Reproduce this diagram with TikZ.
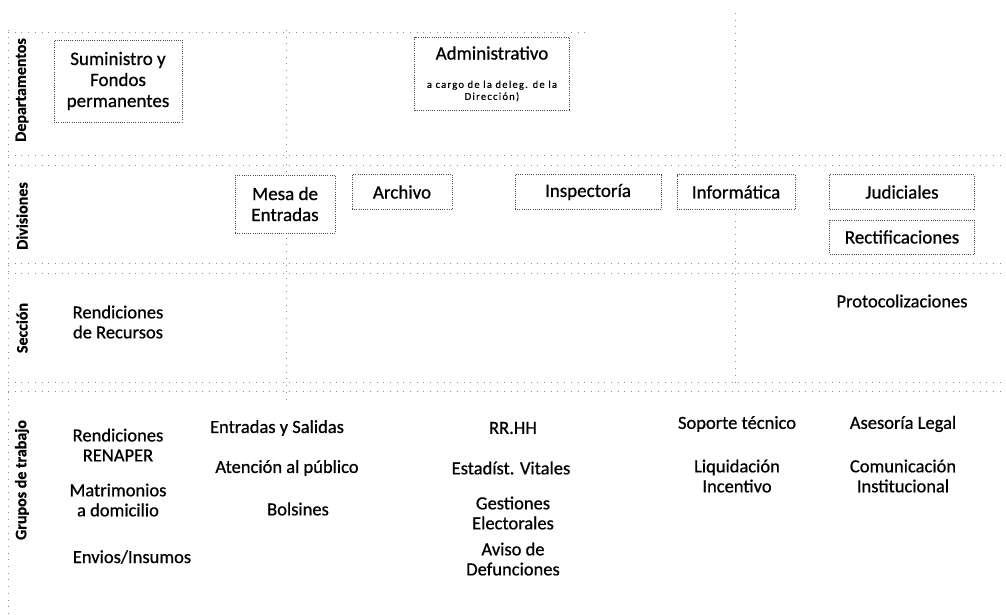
\documentclass[tikz,border=0pt]{standalone}
\usepackage{fontspec}
\setmainfont{Carlito}[FakeBold=0.7]
\newfontfamily\spacedfont[LetterSpace=12,FakeBold=0.5]{Carlito}
\usetikzlibrary{positioning}

\begin{document}
\begin{tikzpicture}[x=1pt,y=-1pt,
    rejilla/.style={draw=black!45, line width=0.5pt, dash pattern=on 0.7pt off 6pt},
    caja/.style={draw=black!70, line width=0.5pt, dash pattern=on 0.7pt off 1.5pt, fill=white,
                 align=center, inner sep=0pt, font=\fontsize{19}{21}\selectfont},
    grupo/.style={align=center, font=\fontsize{18.5}{20}\selectfont},
    franja/.style={rotate=90, font=\bfseries\fontsize{16}{18}\selectfont}]
    \useasboundingbox (0,0) rectangle (1006,615);
    % grid
    \draw[rejilla] (8,30) -- (8,615);
    \draw[rejilla] (8,32) -- (590,32);
    \foreach \y in {155,165,263,273,382,391}
        \draw[rejilla] (8,\y) -- (1006,\y);
    \draw[rejilla] (286,30) -- (286,405);
    \draw[rejilla] (735,13) -- (735,382);
    % bands
    \node[franja] (departamentos) at (22,90) {Departamentos};
    \node[franja] (divisiones) at (22,216) {Divisiones};
    \node[franja] (seccion) at (22,328) {Sección};
    \node[franja] (grupos) at (22,480) {Grupos de trabajo};
    % departamentos
    \node[caja, minimum width=128, minimum height=82] (suministro) at (118,81) {Suministro y\\Fondos\\permanentes};
    \node[caja, minimum width=155, minimum height=73] (administrativo) at (492,74) {};
    \node[font=\fontsize{19}{21}\selectfont] (admtitulo) at (492,53) {Administrativo};
    \node[align=center, font=\spacedfont\fontsize{10.5}{12}\selectfont] (admnota) at (492,91) {a cargo de la deleg. de la\\Dirección)};
    % divisiones
    \node[caja, minimum width=100, minimum height=58] (mesa) at (285,204) {Mesa de\\Entradas};
    \node[caja, minimum width=100, minimum height=35] (archivo) at (402,192) {Archivo};
    \node[caja, minimum width=146, minimum height=35] (inspectoria) at (588,192) {Inspectoría};
    \node[caja, minimum width=118, minimum height=35] (informatica) at (736,192) {Informática};
    \node[caja, minimum width=145, minimum height=35] (judiciales) at (902,192) {Judiciales};
    \node[caja, minimum width=145, minimum height=34, below=10pt of judiciales] (rectificaciones) {Rectificaciones};
    % seccion
    \node[grupo] (rendrecursos) at (118,322) {Rendiciones\\de Recursos};
    \node[grupo] (protocolizaciones) at (902,301) {Protocolizaciones};
    % grupos de trabajo
    \node[grupo] (renaper) at (118,445) {Rendiciones\\RENAPER};
    \node[grupo] (matrimonios) at (118,500) {Matrimonios\\a domicilio};
    \node[grupo] (envios) at (132,557) {Envios/Insumos};
    \node[grupo] (entradas) at (277,428) {Entradas y Salidas};
    \node[grupo] (atencion) at (287,468) {Atención al público};
    \node[grupo] (bolsines) at (298,509) {Bolsines};
    \node[grupo] (rrhh) at (513,428) {RR.HH};
    \node[grupo] (estadisticas) at (511,468) {Estadíst. Vitales};
    \node[grupo] (gestiones) at (513,513) {Gestiones\\Electorales};
    \node[grupo] (aviso) at (513,559) {Aviso de\\Defunciones};
    \node[grupo] (soporte) at (737,424) {Soporte técnico};
    \node[grupo] (liquidacion) at (737,476) {Liquidación\\Incentivo};
    \node[grupo] (asesoria) at (903,424) {Asesoría Legal};
    \node[grupo] (comunicacion) at (903,476) {Comunicación\\Institucional};
\end{tikzpicture}
\end{document}
